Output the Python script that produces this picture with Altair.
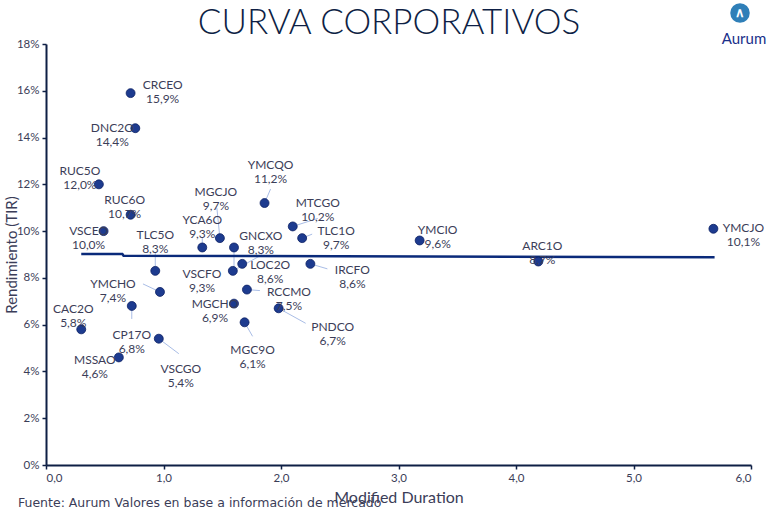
import altair as alt
import pandas as pd

# ---- data ----
names = ["CRCEO", "DNC2O", "RUC5O", "RUC6O", "VSCEO", "TLC5O", "YMCHO", "CAC2O", "CP17O",
         "MSSAO", "VSCGO", "YCA6O", "MGCJO", "YMCQO", "MTCGO", "TLC1O", "VSCFO", "GNCXO",
         "LOC2O", "IRCFO", "RCCMO", "MGCHO", "PNDCO", "MGC9O", "YMCIO", "ARC1O", "YMCJO"]
duration = [0.72, 0.76, 0.45, 0.72, 0.49, 0.93, 0.97, 0.30, 0.73,
            0.62, 0.96, 1.33, 1.48, 1.86, 2.10, 2.18, 1.60, 1.59,
            1.67, 2.25, 1.71, 1.60, 1.98, 1.69, 3.18, 4.19, 5.68]
yields = [15.9, 14.4, 12.0, 10.7, 10.0, 8.3, 7.4, 5.8, 6.8,
          4.6, 5.4, 9.3, 9.7, 11.2, 10.2, 9.7, 9.3, 8.3,
          8.6, 8.6, 7.5, 6.9, 6.7, 6.1, 9.6, 8.7, 10.1]

trend_x = [0.30, 0.65, 0.66, 5.69]
trend_y = [9.02, 9.02, 8.95, 8.88]

# ---- label layout (pixel offsets of label centre / leader end from the point) ----
label_dx = [32, -23, -19, -6, -15, 0, -47, -8, 0,
            -24, 22, 0, -4, 6, 25, 34, -32, 28,
            28, 42, 42, -19, 54, 8, 18, 4, 30]
label_dy = [-8, 0, -13, -15, 0, -36, -8, -20, 29,
            3, 30, -27, -46, -38, -23, -7, 27, -35,
            1, 6, 2, 0, 19, 28, -10, -16, -1]
leader = {"TLC5O": (0, -19), "YMCHO": (-17, -8), "CP17O": (0, 13), "VSCGO": (20, 15),
          "YCA6O": (0, -10), "MGCJO": (-3, -30), "YMCQO": (6, -14), "MTCGO": (25, -8),
          "TLC1O": (10, -4), "VSCFO": (0, 25), "GNCXO": (29, -16), "IRCFO": (17, 5),
          "RCCMO": (13, 1), "PNDCO": (27, 15), "MGC9O": (8, 14)}

W, H = 705, 421
XMAX, YMAX = 6, 18
PX_X = W / XMAX
PX_Y = H / YMAX

NAVY = "#0e1f45"
POINT = "#1d3b8f"
TEXTC = "#3b3d58"
FONT = "Lato"

df = pd.DataFrame({"name": names, "dur": duration, "y": yields})
df["label"] = [f"{n}\n{str(v).replace('.', ',')}%" for n, v in zip(names, yields)]
df["lx"] = df["dur"] + pd.Series(label_dx) / PX_X
df["ly"] = df["y"] - pd.Series(label_dy) / PX_Y

lead_rows = []
for n, (ldx, ldy) in leader.items():
    r = df[df["name"] == n].iloc[0]
    lead_rows.append({"x": r["dur"], "y": r["y"], "x2": r["dur"] + ldx / PX_X, "y2": r["y"] - ldy / PX_Y})
lead_df = pd.DataFrame(lead_rows)

trend_df = pd.DataFrame({"x": trend_x, "y": trend_y})

xscale = alt.Scale(domain=[0, XMAX], nice=False, zero=True)
yscale = alt.Scale(domain=[0, YMAX], nice=False, zero=True)

xaxis = alt.Axis(values=[0, 1, 2, 3, 4, 5, 6], grid=False,
                 labelExpr="replace(format(datum.value, '.1f'), '.', ',')",
                 title="Modified Duration", titleFont=FONT, titleFontSize=16,
                 titleFontWeight="normal", titleColor=TEXTC, titleY=32, titleBaseline="middle")
yaxis = alt.Axis(values=list(range(0, 19, 2)), grid=False,
                 labelExpr="datum.value + '%'",
                 title="Rendimiento (TIR)", titleFont=FONT, titleFontSize=15,
                 titleFontWeight="normal", titleColor=TEXTC, titleX=-35, titleY=H / 2,
                 titleAngle=270, titleBaseline="middle", titleAlign="center")

base_pts = alt.Chart(df)

leaders = alt.Chart(lead_df).mark_rule(color="#a9bde6", strokeWidth=1).encode(
    x=alt.X("x:Q", scale=xscale, axis=xaxis),
    y=alt.Y("y:Q", scale=yscale, axis=yaxis),
    x2="x2:Q", y2="y2:Q")

trend = alt.Chart(trend_df).mark_line(color="#0a2a7a", strokeWidth=2.5).encode(
    x=alt.X("x:Q", scale=xscale), y=alt.Y("y:Q", scale=yscale))

points = base_pts.mark_point(filled=True, color=POINT, stroke="#0b1f63", strokeWidth=0.8,
                             size=80, opacity=1).encode(
    x=alt.X("dur:Q", scale=xscale), y=alt.Y("y:Q", scale=yscale))

labels = base_pts.mark_text(font=FONT, fontSize=12, color=TEXTC, lineBreak="\n",
                            lineHeight=14, align="center", baseline="middle").encode(
    x=alt.X("lx:Q", scale=xscale), y=alt.Y("ly:Q", scale=yscale), text="label:N")

anno = alt.Chart(pd.DataFrame({"t": [0]}))
title = anno.mark_text(text="CURVA CORPORATIVOS", font=FONT, fontSize=35, fontWeight=300,
                       color=NAVY, align="center", baseline="middle").encode(
    x=alt.value(343), y=alt.value(-21))
source = anno.mark_text(text="Fuente: Aurum Valores en base a información de mercado",
                        font="DejaVu Sans", fontSize=12.5, color=TEXTC, align="left",
                        baseline="middle").encode(x=alt.value(-28), y=alt.value(38 + H))
logo_icon = anno.mark_point(filled=True, color="#2f7fb8", size=380, opacity=1).encode(
    x=alt.value(694), y=alt.value(-31))
logo_glyph = anno.mark_text(text="∧", font=FONT, fontSize=13, color="white",
                            baseline="middle", align="center", fontWeight="bold").encode(
    x=alt.value(694), y=alt.value(-31))
logo_text = anno.mark_text(text="Aurum", font=FONT, fontSize=15, color="#1a2f8a",
                           baseline="middle", align="center").encode(
    x=alt.value(698), y=alt.value(-5))

chart = alt.layer(leaders, trend, points, labels, title, source,
                  logo_icon, logo_glyph, logo_text).properties(
    width=W, height=H,
    autosize=alt.AutoSizeParams(type="none"),
    padding={"left": 46, "top": 44, "right": 30, "bottom": 45},
    background="white",
).configure_view(stroke=None).configure_axis(
    domainColor=NAVY, domainWidth=2, tickColor=NAVY, tickWidth=1.5, tickSize=4,
    labelColor=TEXTC, labelFont=FONT, labelFontSize=11.5, labelPadding=3,
)

chart.save("out.html", embed_options={"renderer": "svg", "actions": False})
